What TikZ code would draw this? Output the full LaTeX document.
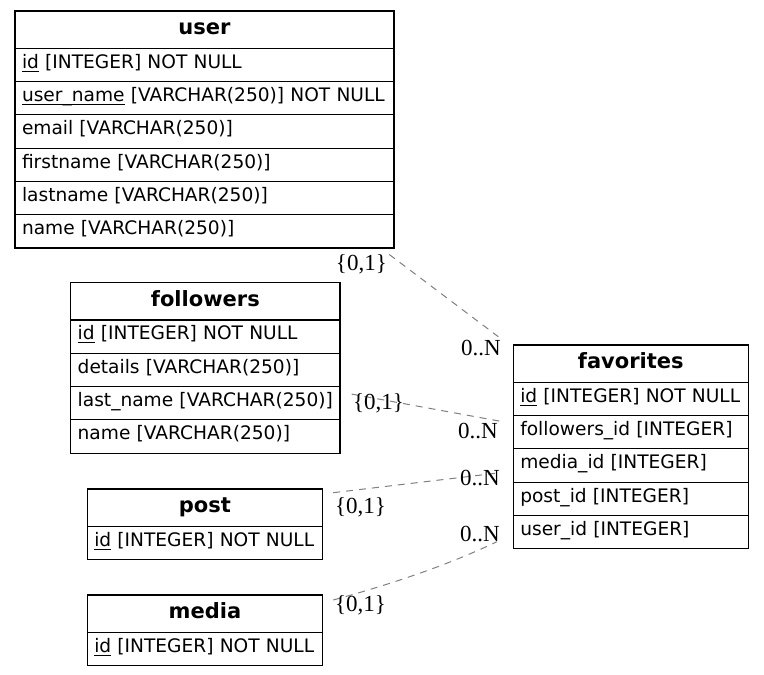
\documentclass[tikz,border=0pt]{standalone}
\usepackage{fontspec}
\setmainfont{DejaVu Sans}
\newfontfamily\cardfont{Liberation Serif}
\usetikzlibrary{calc}

% primary-key underline that sits level with an underscore
\newcommand\keyul[1]{\setbox0\hbox{#1}\rlap{\rule[-3.3pt]{\wd0}{0.9pt}}\box0\relax}

\definecolor{linkgray}{RGB}{128,128,128}

\tikzset{
  cell/.style={draw=black, line width=1.2pt, anchor=north west,
    inner xsep=7pt, inner ysep=0pt, outer sep=0pt},
  head/.style={cell, align=center, minimum height=37.2pt,
    text height=16pt, text depth=6.1pt,
    font=\fontsize{21}{25}\selectfont\bfseries},
  field/.style={cell, align=left, minimum height=33.3pt,
    text height=14pt, text depth=7.3pt,
    font=\fontsize{18.6}{22}\selectfont},
  link/.style={draw=linkgray, line width=1pt, dash pattern=on 7pt off 6pt},
  card/.style={inner sep=0pt, font=\cardfont\fontsize{23}{27}\selectfont},
}

\begin{document}
\begin{tikzpicture}[x=1pt,y=-1pt]
\useasboundingbox[fill=white] (0,0) rectangle (764,675);

% ---- user
\node[head, text width=365pt] (user) at (15,11) {user};
\node[field, text width=365pt] (user-1) at (user.south west) {\keyul{id} [INTEGER] NOT NULL};
\node[field, text width=365pt] (user-2) at (user-1.south west) {\keyul{user\_name} [VARCHAR(250)] NOT NULL};
\node[field, text width=365pt] (user-3) at (user-2.south west) {email [VARCHAR(250)]};
\node[field, text width=365pt] (user-4) at (user-3.south west) {firstname [VARCHAR(250)]};
\node[field, text width=365pt] (user-5) at (user-4.south west) {lastname [VARCHAR(250)]};
\node[field, text width=365pt] (user-6) at (user-5.south west) {name [VARCHAR(250)]};

% ---- followers
\node[head, text width=255.3pt] (followers) at (70.7,282.7) {followers};
\node[field, text width=255.3pt] (followers-1) at (followers.south west) {\keyul{id} [INTEGER] NOT NULL};
\node[field, text width=255.3pt] (followers-2) at (followers-1.south west) {details [VARCHAR(250)]};
\node[field, text width=255.3pt] (followers-3) at (followers-2.south west) {last\_name [VARCHAR(250)]};
\node[field, text width=255.3pt] (followers-4) at (followers-3.south west) {name [VARCHAR(250)]};

% ---- post
\node[head, text width=221.3pt] (post) at (87.3,489) {post};
\node[field, text width=221.3pt] (post-1) at (post.south west) {\keyul{id} [INTEGER] NOT NULL};

% ---- media
\node[head, text width=221.3pt] (media) at (87.3,595) {media};
\node[field, text width=221.3pt] (media-1) at (media.south west) {\keyul{id} [INTEGER] NOT NULL};

% ---- favorites
\node[head, text width=221pt] (favorites) at (513.3,345) {favorites};
\node[field, text width=221pt] (favorites-1) at (favorites.south west) {\keyul{id} [INTEGER] NOT NULL};
\node[field, text width=221pt] (favorites-2) at (favorites-1.south west) {followers\_id [INTEGER]};
\node[field, text width=221pt] (favorites-3) at (favorites-2.south west) {media\_id [INTEGER]};
\node[field, text width=221pt] (favorites-4) at (favorites-3.south west) {post\_id [INTEGER]};
\node[field, text width=221pt] (favorites-5) at (favorites-4.south west) {user\_id [INTEGER]};

% ---- relationship end points
\coordinate (u-out)  at ($(user-6.south east)+(-4.7,6.5)$);
\coordinate (u-in)   at ($(favorites.north west)+(-15,-8.3)$);
\coordinate (fo-out) at ($(followers-3.north east)+(11.7,7.6)$);
\coordinate (fo-in)  at ($(favorites-2.north west)+(-13.3,5.7)$);
\coordinate (p-out)  at ($(post.north east)+(10.6,3.7)$);
\coordinate (p-in)   at ($(favorites-3.north west)+(-15.3,24.2)$);
\coordinate (m-out)  at ($(media.north east)+(10.6,5)$);
\coordinate (m-in)   at ($(favorites-5.north west)+(-16.3,26.3)$);

% ---- relationships
\draw[link] (u-out) -- (u-in);
\draw[link] (fo-out) -- (fo-in);
\draw[link] (p-out) -- (p-in);
\draw[link] (m-out) .. controls ($(m-out)!0.35!(m-in)+(3,4)$) and ($(m-out)!0.7!(m-in)+(2,5)$) .. (m-in);

% ---- cardinalities
\node[card, anchor=base east] (u-c1) at (387,270) {\{0,1\}};
\node[card, anchor=base east] (u-cn) at (501,355) {0..N};
\node[card, anchor=base west] (fo-c1) at (353,409.5) {\{0,1\}};
\node[card, anchor=base east] (fo-cn) at (498,438) {0..N};
\node[card, anchor=base west] (p-c1) at (335,513.5) {\{0,1\}};
\node[card, anchor=base east] (p-cn) at (500,485) {0..N};
\node[card, anchor=base west] (m-c1) at (335,611.7) {\{0,1\}};
\node[card, anchor=base east] (m-cn) at (500,541.7) {0..N};
\end{tikzpicture}
\end{document}
